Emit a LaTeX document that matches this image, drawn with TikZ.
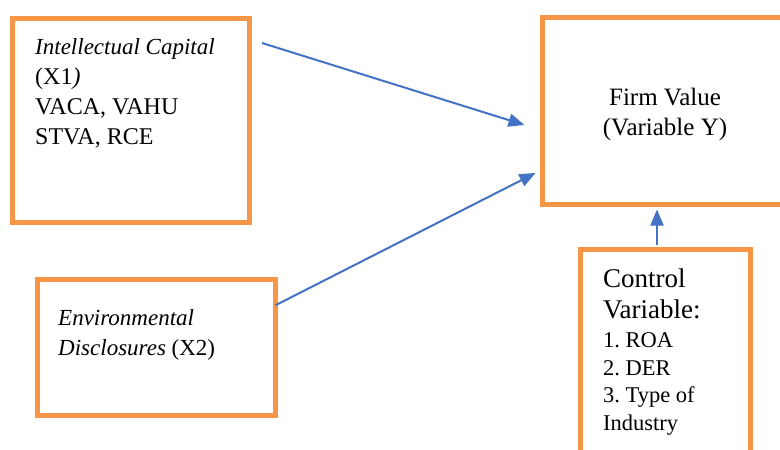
\documentclass[tikz,border=0pt]{standalone}
\usepackage{fontspec}
\setmainfont{Liberation Serif}
\usetikzlibrary{arrows.meta}
\definecolor{boxorange}{HTML}{F79646}
\definecolor{arrowblue}{HTML}{4472C4}
\begin{document}
\frenchspacing
\begin{tikzpicture}[x=1pt,y=-1pt,
  box/.style={draw=boxorange, line width=5pt, inner sep=0pt, rectangle},
  txt/.style={anchor=base west, align=left, inner sep=0pt, font=\fontsize{24}{30}\selectfont},
  link/.style={draw=arrowblue, line width=2pt, -{Triangle[length=16pt,width=13pt]}}]
\useasboundingbox (0,0) rectangle (780,450);
\clip (0,0) rectangle (780,450);
\fill[white] (0,0) rectangle (780,450);
% boxes
\node[box, minimum width=237.5pt, minimum height=203.5pt] (ic) at (130.75,120.25) {};
\node[box, minimum width=238pt, minimum height=135.5pt] (ed) at (156,347.25) {};
\node[box, minimum width=258pt, minimum height=187pt] (fv) at (671,111) {};
\node[box, minimum width=170pt, minimum height=221pt] (cv) at (665,360) {};
% texts (base anchor = last line's baseline)
\node[txt] (ict) at (35,144) {{\fontsize{23}{30}\selectfont\textit{Intellectual Capital}}\\(X1\textit{)}\\VACA, VAHU\\STVA, RCE};
\node[txt, font=\fontsize{23}{30}\selectfont] (edt) at (58,355) {\textit{Environmental}\\\textit{Disclosures} (X2)};
\node[txt, anchor=base, align=center, font=\fontsize{25}{30}\selectfont] (fvt) at (665,135) {Firm Value\\(Variable Y)};
\node[txt, font=\fontsize{27}{31}\selectfont] (cvt1) at (603,318) {Control\\Variable:};
\node[txt, font=\fontsize{22.5}{27.5}\selectfont] (cvt2) at (603,430) {1. ROA\\2. DER\\3. Type of\\Industry};
% connectors
\coordinate (s1) at (262,43);
\draw[link] (s1) -- ([xshift=-15pt,yshift=-14pt]fv.west);
\draw[link] ([xshift=-2pt,yshift=42pt]ed.east) -- ([xshift=-4pt,yshift=-62pt]fv.west);
\draw[link] ([xshift=-8pt,yshift=2.5pt]cv.north) -- ([xshift=-14pt,yshift=-2.5pt]fv.south);
\end{tikzpicture}
\end{document}
